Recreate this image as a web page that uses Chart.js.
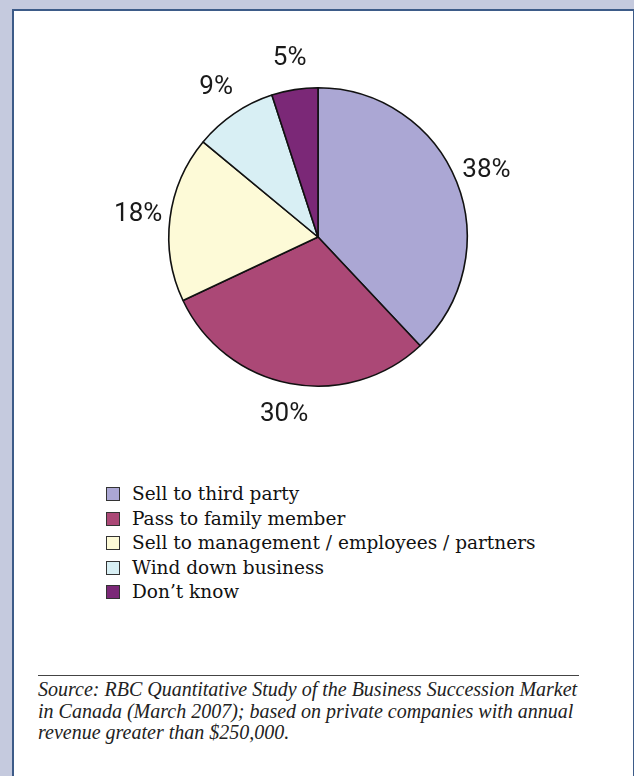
<!DOCTYPE html>
<html>
<head>
<meta charset="utf-8">
<script src="https://cdn.jsdelivr.net/npm/chart.js@4/dist/chart.umd.min.js"></script>
<style>
  html, body { margin: 0; padding: 0; }
  body { width: 634px; height: 776px; background: #c5cade; overflow: hidden; position: relative; }
  #panel {
    position: absolute; left: 12px; top: 9px; width: 619px; height: 800px;
    background: #fff; border: 2px solid #3d5b88; border-bottom: none;
  }
  #pieBox { position: absolute; left: 88px; top: 7px; width: 460px; height: 460px; }
  #legend { position: absolute; left: 106px; top: 482px; margin: 0; padding: 0; list-style: none;
    font-family: "DejaVu Serif", "Liberation Serif", serif; font-size: 18.5px; color: #111; }
  #legend li { height: 24.5px; line-height: 24.5px; display: flex; align-items: center; }
  #legend .box { width: 12px; height: 12px; border: 1px solid #333; margin-right: 12px; }
  #rule { position: absolute; left: 38px; top: 675px; width: 541px; height: 0; border-top: 1.5px solid #444; }
  #source { position: absolute; left: 38px; top: 679px; width: 590px; margin: 0; white-space: nowrap;
    font-family: "Liberation Serif", "DejaVu Serif", serif; font-style: italic; font-size: 20px;
    line-height: 21.5px; color: #222; }
</style>
</head>
<body>
<div id="panel"></div>
<div id="pieBox"><canvas id="pie"></canvas></div>
<ul id="legend"></ul>
<div id="rule"></div>
<p id="source">Source: RBC Quantitative Study of the Business Succession Market<br>in Canada (March 2007); based on private companies with annual<br>revenue greater than $250,000.</p>
<script>
const categories = ["Sell to third party", "Pass to family member", "Sell to management / employees / partners", "Wind down business", "Don\u2019t know"];
const shares = [38, 30, 18, 9, 5];
const sliceColors = ["#aba7d4", "#ab4876", "#fdfad7", "#d8eff4", "#7b2877"];

// html legend, built from the same arrays
const legendList = document.getElementById("legend");
categories.forEach((name, i) => {
    const li = document.createElement("li");
    li.innerHTML = `<span class="box" style="background:${sliceColors[i]}"></span>${name}`;
    legendList.appendChild(li);
});

// percent labels outside the slices
const outsideLabels = {
    id: "outsideLabels",
    afterDatasetsDraw(chart) {
        const ctx = chart.ctx;
        const arcs = chart.getDatasetMeta(0).data;
        ctx.save();
        ctx.font = "26px Roboto, 'Liberation Sans', sans-serif";
        ctx.fillStyle = "#1a1a1a";
        ctx.textAlign = "center";
        ctx.textBaseline = "middle";
        arcs.forEach((arc, i) => {
            const mid = (arc.startAngle + arc.endAngle) / 2;
            const dist = arc.outerRadius + 32;
            ctx.fillText(shares[i] + "%", arc.x + Math.cos(mid) * dist, arc.y + Math.sin(mid) * dist);
        });
        ctx.restore();
    }
};

const ctx = document.getElementById("pie").getContext("2d");
new Chart(ctx, {
    type: "pie",
    data: {
        labels: categories,
        datasets: [{
            data: shares,
            backgroundColor: sliceColors,
            borderColor: "#111",
            borderWidth: 1.6
        }]
    },
    options: {
        responsive: true,
        maintainAspectRatio: false,
        animation: false,
        layout: { padding: 80 },
        plugins: {
            legend: { display: false },
            tooltip: { enabled: false }
        }
    },
    plugins: [outsideLabels]
});
</script>
</body>
</html>
